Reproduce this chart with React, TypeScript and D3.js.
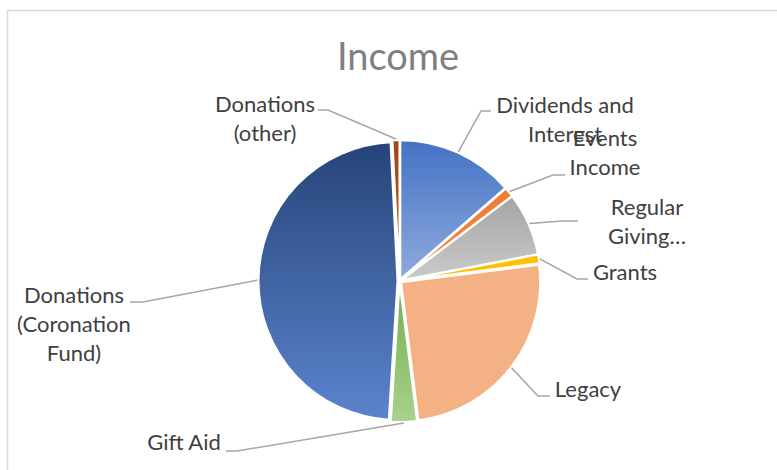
import React from "react";
import * as d3 from "d3";

const categories = [
  "Dividends and Interest",
  "Events Income",
  "Regular Giving…",
  "Grants",
  "Legacy",
  "Gift Aid",
  "Donations (Coronation Fund)",
  "Donations (other)",
];
const values = [13.6, 1.1, 7.3, 1.0, 25.0, 3.0, 48.2, 0.8];
const labelLines = [
  ["Dividends and", "Interest"],
  ["Events", "Income"],
  ["Regular", "Giving…"],
  ["Grants"],
  ["Legacy"],
  ["Gift Aid"],
  ["Donations", "(Coronation", "Fund)"],
  ["Donations", "(other)"],
];
const title = "Income";

// colour fills: [top, bottom] of vertical gradient
const fills: [string, string][] = [
  ["#4472C4", "#8EAADC"],
  ["#ED7D31", "#F08A45"],
  ["#A5A5A5", "#CACACA"],
  ["#FFC000", "#FFC000"],
  ["#F4B183", "#F4B183"],
  ["#72AE4A", "#A9D18E"],
  ["#264478", "#5B84CD"],
  ["#9E480E", "#B55A1E"],
];

// label layout: text centre x, first baseline y, elbow point, end point of leader
const labelLayout = [
  { tx: 565, ty: 113, elbow: [481, 111], end: [491, 111] },
  { tx: 605, ty: 146, elbow: [553, 175], end: [565, 175] },
  { tx: 647, ty: 215, elbow: [562, 221], end: [578, 221] },
  { tx: 625, ty: 280, elbow: [577, 279], end: [588, 279] },
  { tx: 588, ty: 397, elbow: [538, 396], end: [550, 396] },
  { tx: 184, ty: 450, elbow: [237, 451], end: [226, 451] },
  { tx: 74, ty: 303, elbow: [143, 302], end: [130, 302] },
  { tx: 265, ty: 112, elbow: [328, 110], end: [318, 110] },
];

const W = 777;
const H = 470;
const cx = 399.5;
const cy = 281;
const R = 139;
const explode = 2;
const lineH = 29;

export default function App() {
  const data = categories.map((c, i) => ({ c, v: values[i], i }));
  const pie = d3
    .pie<any>()
    .sort(null)
    .value((d: any) => d.v)
    .startAngle(0)
    .endAngle(2 * Math.PI);
  const arcs = pie(data);
  const arc = d3.arc<any>().innerRadius(0).outerRadius(R);

  return (
    <svg
      width={W}
      height={H}
      style={{ position: "absolute", left: 0, top: 0, background: "#fff" }}
      fontFamily="Lato, 'Noto Sans', sans-serif"
    >
      <defs>
        {fills.map((f, i) => (
          <linearGradient key={i} id={`g${i}`} x1="0" y1="0" x2="0" y2="1">
            <stop offset="0" stopColor={f[0]} />
            <stop offset="1" stopColor={f[1]} />
          </linearGradient>
        ))}
      </defs>
      <rect x={0} y={0} width={W} height={H} fill="#fff" />
      <rect
        x={7.5}
        y={10.5}
        width={900}
        height={600}
        fill="none"
        stroke="#D9D9D9"
        strokeWidth={1.5}
      />
      <text
        x={398}
        y={70}
        textAnchor="middle"
        fontSize={38}
        fill="#7F7F7F"
      >
        {title}
      </text>
      {arcs.map((a, i) => {
        const mid = (a.startAngle + a.endAngle) / 2;
        const dx = Math.sin(mid) * explode;
        const dy = -Math.cos(mid) * explode;
        return (
          <path
            key={i}
            d={arc(a) as string}
            transform={`translate(${cx + dx},${cy + dy})`}
            fill={`url(#g${i})`}
            stroke="#fff"
            strokeWidth={2}
            strokeLinejoin="miter"
          />
        );
      })}
      {arcs.map((a, i) => {
        const mid = (a.startAngle + a.endAngle) / 2;
        const r0 = R + explode + 1;
        const sx = cx + Math.sin(mid) * r0;
        const sy = cy - Math.cos(mid) * r0;
        const L = labelLayout[i];
        return (
          <g key={i}>
            <polyline
              points={`${sx},${sy} ${L.elbow[0]},${L.elbow[1]} ${L.end[0]},${L.end[1]}`}
              fill="none"
              stroke="#A6A6A6"
              strokeWidth={1.5}
            />
            <text
              x={L.tx}
              y={L.ty}
              textAnchor="middle"
              fontSize={22}
              fill="#404040"
            >
              {labelLines[i].map((ln, j) => (
                <tspan key={j} x={L.tx} y={L.ty + j * lineH}>
                  {ln}
                </tspan>
              ))}
            </text>
          </g>
        );
      })}
    </svg>
  );
}
